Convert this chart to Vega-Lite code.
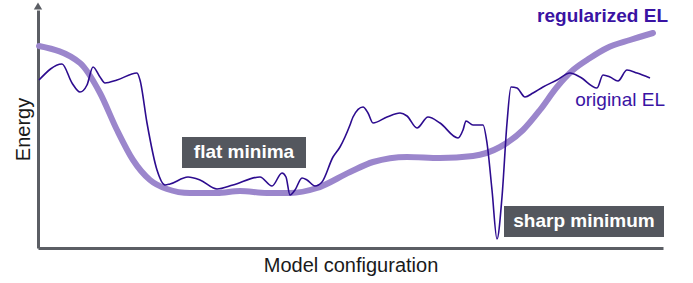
{
  "$schema": "https://vega.github.io/schema/vega-lite/v6.json",
  "width": 625,
  "height": 238,
  "autosize": "none",
  "padding": {"left": 38, "top": 10, "right": 30, "bottom": 35},
  "background": "white",
  "config": {"view": {"stroke": null}, "font": "Liberation Sans"},
  "datasets": {
    "reg": [
      {"x": 1, "y": 202}, {"x": 42, "y": 185}, {"x": 62, "y": 155}, {"x": 79, "y": 118},
      {"x": 95, "y": 88}, {"x": 112, "y": 68}, {"x": 129, "y": 59}, {"x": 152, "y": 55},
      {"x": 179, "y": 55}, {"x": 202, "y": 57}, {"x": 229, "y": 55}, {"x": 252, "y": 55},
      {"x": 279, "y": 60}, {"x": 312, "y": 76}, {"x": 335, "y": 86}, {"x": 369, "y": 91},
      {"x": 402, "y": 90}, {"x": 435, "y": 92}, {"x": 462, "y": 101}, {"x": 485, "y": 118},
      {"x": 502, "y": 138}, {"x": 519, "y": 161}, {"x": 535, "y": 178}, {"x": 552, "y": 190},
      {"x": 569, "y": 200}, {"x": 592, "y": 208}, {"x": 615, "y": 215}
    ],
    "orig": [
      {"x": 1, "y": 168}, {"x": 24, "y": 184}, {"x": 34, "y": 165}, {"x": 42, "y": 156},
      {"x": 49, "y": 163}, {"x": 55, "y": 181}, {"x": 62, "y": 171}, {"x": 67, "y": 165},
      {"x": 79, "y": 168}, {"x": 99, "y": 175}, {"x": 102, "y": 168}, {"x": 109, "y": 125},
      {"x": 119, "y": 78}, {"x": 127, "y": 63}, {"x": 132, "y": 64}, {"x": 150, "y": 71},
      {"x": 162, "y": 68}, {"x": 179, "y": 59}, {"x": 195, "y": 63}, {"x": 222, "y": 71},
      {"x": 234, "y": 62}, {"x": 244, "y": 75}, {"x": 248, "y": 71}, {"x": 252, "y": 53},
      {"x": 257, "y": 58}, {"x": 264, "y": 70}, {"x": 269, "y": 68}, {"x": 277, "y": 62},
      {"x": 284, "y": 66}, {"x": 295, "y": 91}, {"x": 302, "y": 101}, {"x": 312, "y": 123},
      {"x": 315, "y": 131}, {"x": 325, "y": 141}, {"x": 330, "y": 135}, {"x": 335, "y": 125},
      {"x": 349, "y": 131}, {"x": 362, "y": 135}, {"x": 369, "y": 132}, {"x": 379, "y": 120},
      {"x": 390, "y": 131}, {"x": 402, "y": 125}, {"x": 420, "y": 110}, {"x": 425, "y": 118},
      {"x": 428, "y": 127}, {"x": 435, "y": 123}, {"x": 445, "y": 123}, {"x": 449, "y": 105},
      {"x": 454, "y": 58}, {"x": 459, "y": 9}, {"x": 464, "y": 51}, {"x": 469, "y": 125},
      {"x": 473, "y": 161}, {"x": 479, "y": 160}, {"x": 487, "y": 151}, {"x": 495, "y": 155},
      {"x": 505, "y": 161}, {"x": 519, "y": 168}, {"x": 532, "y": 175}, {"x": 542, "y": 171},
      {"x": 559, "y": 160}, {"x": 565, "y": 173}, {"x": 572, "y": 171}, {"x": 580, "y": 167},
      {"x": 589, "y": 178}, {"x": 599, "y": 175}, {"x": 612, "y": 170}
    ],
    "boxes": [
      {"x": 144, "x2": 268, "y": 80, "y2": 111, "label": "flat minima", "tx": 206, "ty": 96},
      {"x": 466, "x2": 626, "y": 11, "y2": 42, "label": "sharp minimum", "tx": 546, "ty": 27}
    ],
    "labels": [
      {"x": 630, "y": 232, "label": "regularized EL", "weight": "bold"},
      {"x": 627, "y": 148, "label": "original EL", "weight": "normal"}
    ],
    "arrow": [{"x": 0, "y": 242}]
  },
  "layer": [
    {
      "data": {"name": "reg"},
      "mark": {"type": "line", "interpolate": "monotone", "color": "#9b86cc", "strokeWidth": 6, "strokeCap": "round"},
      "encoding": {
        "x": {"field": "x", "type": "quantitative", "scale": {"domain": [0, 625], "nice": false, "zero": false},
          "axis": {"title": "Model configuration", "ticks": false, "labels": false, "grid": false,
            "domainColor": "#5b5e64", "domainWidth": 3, "titleFontSize": 20, "titleFontWeight": "normal",
            "titleColor": "#1a1a1a", "titlePadding": 7, "titleFont": "Liberation Sans"}},
        "y": {"field": "y", "type": "quantitative", "scale": {"domain": [0, 238], "nice": false, "zero": false},
          "axis": {"title": "Energy", "ticks": false, "labels": false, "grid": false,
            "domainColor": "#5b5e64", "domainWidth": 3, "titleFontSize": 20, "titleFontWeight": "normal",
            "titleColor": "#1a1a1a", "titlePadding": 5, "titleFont": "Liberation Sans"}}
      }
    },
    {
      "data": {"name": "orig"},
      "mark": {"type": "line", "interpolate": "monotone", "color": "#2d0c8f", "strokeWidth": 1.6},
      "encoding": {
        "x": {"field": "x", "type": "quantitative"},
        "y": {"field": "y", "type": "quantitative"}
      }
    },
    {
      "data": {"name": "boxes"},
      "mark": {"type": "rect", "color": "#54575e"},
      "encoding": {
        "x": {"field": "x", "type": "quantitative"},
        "x2": {"field": "x2"},
        "y": {"field": "y", "type": "quantitative"},
        "y2": {"field": "y2"}
      }
    },
    {
      "data": {"name": "boxes"},
      "mark": {"type": "text", "color": "white", "fontWeight": "bold", "fontSize": 19, "align": "center", "baseline": "middle", "font": "Liberation Sans"},
      "encoding": {
        "x": {"field": "tx", "type": "quantitative"},
        "y": {"field": "ty", "type": "quantitative"},
        "text": {"field": "label"}
      }
    },
    {
      "data": {"name": "labels"},
      "transform": [{"filter": "datum.weight === 'bold'"}],
      "mark": {"type": "text", "color": "#3a13a3", "fontSize": 19, "fontWeight": "bold", "align": "right", "baseline": "middle", "font": "Liberation Sans"},
      "encoding": {
        "x": {"field": "x", "type": "quantitative"},
        "y": {"field": "y", "type": "quantitative"},
        "text": {"field": "label"}
      }
    },
    {
      "data": {"name": "labels"},
      "transform": [{"filter": "datum.weight === 'normal'"}],
      "mark": {"type": "text", "color": "#3a13a3", "fontSize": 19, "fontWeight": "normal", "align": "right", "baseline": "middle", "font": "Liberation Sans"},
      "encoding": {
        "x": {"field": "x", "type": "quantitative"},
        "y": {"field": "y", "type": "quantitative"},
        "text": {"field": "label"}
      }
    },
    {
      "data": {"name": "arrow"},
      "mark": {"type": "point", "shape": "triangle-up", "filled": true, "color": "#5b5e64", "size": 70, "opacity": 1},
      "encoding": {
        "x": {"field": "x", "type": "quantitative"},
        "y": {"field": "y", "type": "quantitative"}
      }
    }
  ]
}
